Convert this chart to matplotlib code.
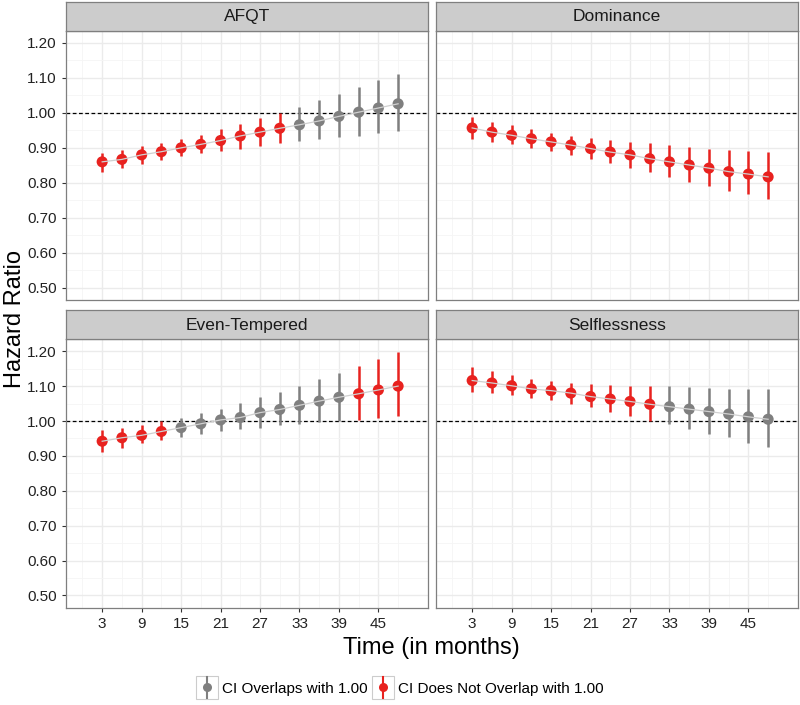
import numpy as np
import matplotlib.pyplot as plt
from matplotlib.lines import Line2D
from matplotlib.patches import Rectangle
from matplotlib.legend_handler import HandlerBase

plt.rcParams['font.family'] = ['Liberation Sans', 'DejaVu Sans']

months = [3, 6, 9, 12, 15, 18, 21, 24, 27, 30, 33, 36, 39, 42, 45, 48]

afqt_hr = [0.860, 0.867, 0.880, 0.889, 0.900, 0.910, 0.921, 0.934,
           0.945, 0.956, 0.966, 0.977, 0.990, 1.002, 1.014, 1.026]
afqt_lo = [0.831, 0.843, 0.853, 0.866, 0.877, 0.884, 0.891, 0.898,
           0.905, 0.913, 0.919, 0.924, 0.932, 0.935, 0.943, 0.947]
afqt_hi = [0.886, 0.894, 0.904, 0.913, 0.924, 0.938, 0.953, 0.969,
           0.986, 0.999, 1.017, 1.036, 1.054, 1.073, 1.093, 1.111]

dom_hr = [0.957, 0.945, 0.936, 0.926, 0.917, 0.908, 0.898, 0.888,
          0.880, 0.869, 0.860, 0.851, 0.842, 0.832, 0.825, 0.817]
dom_lo = [0.924, 0.917, 0.910, 0.900, 0.891, 0.880, 0.869, 0.858,
          0.843, 0.831, 0.818, 0.803, 0.791, 0.777, 0.767, 0.753]
dom_hi = [0.989, 0.974, 0.964, 0.953, 0.943, 0.935, 0.929, 0.922,
          0.917, 0.913, 0.908, 0.903, 0.898, 0.894, 0.891, 0.888]

even_hr = [0.942, 0.952, 0.959, 0.970, 0.981, 0.992, 1.003, 1.010,
           1.024, 1.033, 1.045, 1.057, 1.068, 1.078, 1.089, 1.100]
even_lo = [0.910, 0.924, 0.936, 0.945, 0.955, 0.964, 0.972, 0.976,
           0.979, 0.988, 0.992, 0.998, 0.999, 1.003, 1.009, 1.014]
even_hi = [0.973, 0.980, 0.989, 0.999, 1.009, 1.022, 1.034, 1.051,
           1.068, 1.083, 1.101, 1.120, 1.139, 1.159, 1.178, 1.197]

self_hr = [1.116, 1.109, 1.101, 1.092, 1.087, 1.080, 1.070, 1.063,
           1.056, 1.048, 1.041, 1.034, 1.027, 1.020, 1.012, 1.005]
self_lo = [1.083, 1.079, 1.074, 1.066, 1.059, 1.050, 1.040, 1.027,
           1.015, 1.001, 0.991, 0.976, 0.964, 0.953, 0.938, 0.926]
self_hi = [1.154, 1.142, 1.131, 1.121, 1.114, 1.109, 1.106, 1.102,
           1.100, 1.100, 1.099, 1.097, 1.095, 1.093, 1.093, 1.093]

panels = [
    ('AFQT', afqt_hr, afqt_lo, afqt_hi),
    ('Dominance', dom_hr, dom_lo, dom_hi),
    ('Even-Tempered', even_hr, even_lo, even_hi),
    ('Selflessness', self_hr, self_lo, self_hi),
]

x_ticks = [3, 9, 15, 21, 27, 33, 39, 45]
y_ticks = [0.50, 0.60, 0.70, 0.80, 0.90, 1.00, 1.10, 1.20]

RED = '#E8221F'
GREY = '#7F7F7F'
W, H = 800, 705

fig = plt.figure(figsize=(8, 7.05), dpi=100)

# panel boxes in pixels: (left, top, right, bottom)
lefts = [66, 436]
rights = [427.7, 797.7]
tops = [30.7, 339.0]
bottoms = [300.0, 607.7]
strip_h = 29.0

for k, (name, hr, lo, hi) in enumerate(panels):
    r, c = divmod(k, 2)
    l, rt, t, b = lefts[c], rights[c], tops[r], bottoms[r]
    ax = fig.add_axes([l / W, 1 - b / H, (rt - l) / W, (b - t) / H])
    hr = np.array(hr); lo = np.array(lo); hi = np.array(hi)
    sig = (lo > 1) | (hi < 1)
    cols = np.where(sig, RED, GREY)
    ax.vlines(months, lo, hi, colors=cols, lw=1.8, zorder=3)
    ax.scatter(months, hr, c=cols, s=64, zorder=4, linewidths=0)
    ax.plot(months, hr, color='#D0D0D0', lw=0.9, zorder=5)
    ax.axhline(1.0, color='black', lw=0.9, ls=(0, (3, 2)), zorder=2)

    ax.set_xlim(-2.5, 52.5)
    ax.set_ylim(0.465, 1.235)
    ax.set_xticks(x_ticks)
    ax.set_yticks(y_ticks)
    ax.set_xticks(np.arange(0, 52, 6), minor=True)
    ax.set_yticks(np.arange(0.55, 1.25, 0.1), minor=True)
    ax.grid(True, which='major', color='#EBEBEB', lw=1.0, zorder=0)
    ax.grid(True, which='minor', color='#F5F5F5', lw=0.6, zorder=0)
    ax.set_axisbelow(True)
    for sp in ax.spines.values():
        sp.set_color('#7F7F7F')
        sp.set_linewidth(0.9)
    ax.tick_params(which='minor', length=0)
    ax.tick_params(which='major', length=3, width=0.8, color='#333333',
                   labelsize=11, labelcolor='#222222')
    if r == 1:
        ax.set_xticklabels([str(v) for v in x_ticks])
    else:
        ax.tick_params(axis='x', length=0, labelbottom=False)
    if c == 0:
        ax.set_yticklabels(['%.2f' % v for v in y_ticks])
    else:
        ax.tick_params(axis='y', length=0, labelleft=False)

    sax = fig.add_axes([l / W, 1 - t / H, (rt - l) / W, strip_h / H])
    sax.set_facecolor('#CCCCCC')
    sax.set_xticks([]); sax.set_yticks([])
    for sp in sax.spines.values():
        sp.set_color('#7F7F7F')
        sp.set_linewidth(0.9)
    sax.text(0.5, 0.48, name, ha='center', va='center', fontsize=12.5,
             color='#1A1A1A', transform=sax.transAxes)

fig.text((66 + 797.7) / 2 / W, 1 - 648 / H, 'Time (in months)',
         ha='center', va='center', fontsize=17)
fig.text(15 / W, 1 - 319 / H, 'Hazard Ratio', ha='center', va='center',
         rotation=90, fontsize=17)


class PointRangeHandler(HandlerBase):
    def create_artists(self, legend, orig_handle, xdescent, ydescent,
                       width, height, fontsize, trans):
        c = orig_handle.get_color()
        x0 = -xdescent
        y0 = -ydescent
        box = Rectangle((x0, y0 - 0.35 * height), width, height * 1.7,
                        fc='white', ec='#CCCCCC', lw=0.8, transform=trans)
        cx = x0 + width / 2
        vl = Line2D([cx, cx], [y0 - 0.25 * height, y0 + 1.25 * height],
                    color=c, lw=1.5, transform=trans)
        pt = Line2D([cx], [y0 + height / 2], marker='o', ms=6.5, color=c,
                    mew=0, transform=trans)
        return [box, vl, pt]


handles = [Line2D([], [], color=GREY), Line2D([], [], color=RED)]
labels = ['CI Overlaps with 1.00', 'CI Does Not Overlap with 1.00']
fig.legend(handles, labels, loc='center', bbox_to_anchor=(0.5, 1 - 688 / H),
           ncol=2, frameon=False, fontsize=11, handlelength=1.4,
           handleheight=1.0, handletextpad=0.3, columnspacing=0.3,
           handler_map={Line2D: PointRangeHandler()})

fig.savefig('out.png', dpi=100)
